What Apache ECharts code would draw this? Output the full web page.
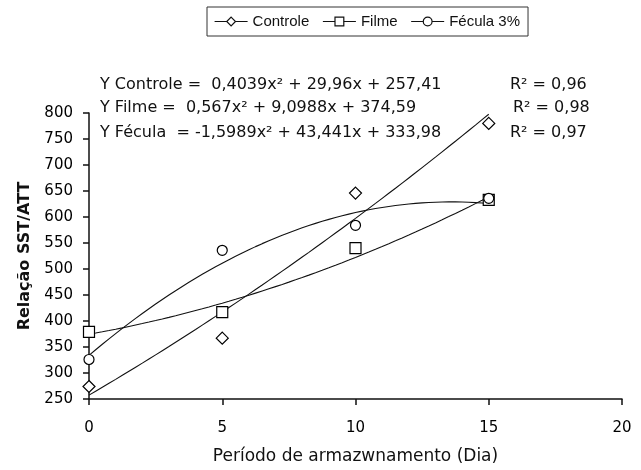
<!DOCTYPE html>
<html>
<head>
<meta charset="utf-8">
<script src="https://cdn.jsdelivr.net/npm/echarts@6/dist/echarts.min.js"></script>
<style>
  html, body { margin: 0; padding: 0; background: #ffffff; }
  #chart { width: 641px; height: 470px; }
</style>
</head>
<body>
<div id="chart"></div>
<script>
// Storage days on the x axis
const days = [0, 5, 10, 15];

// SST/ATT ratio measured for each treatment
const controle = [274, 367, 646, 780];
const filme = [379, 417, 540, 633];
const fecula = [326, 536, 584, 636];

// Quadratic trendline coefficients [a, b, c] for y = a*x^2 + b*x + c
const controleFit = [0.4039, 29.96, 257.41];
const filmeFit = [0.567, 9.0988, 374.59];
const feculaFit = [-1.5989, 43.441, 333.98];

// Series names and equation captions
const seriesNames = ['Controle', 'Filme', 'Fécula 3%'];
const equations = [
  'Y Controle =  0,4039x² + 29,96x + 257,41',
  'Y Filme =  0,567x² + 9,0988x + 374,59',
  'Y Fécula  = -1,5989x² + 43,441x + 333,98'
];
const r2Labels = ['R² = 0,96', 'R² = 0,98', 'R² = 0,97'];

// Axis ticks
const yTicks = [250, 300, 350, 400, 450, 500, 550, 600, 650, 700, 750, 800];
const xTicks = [0, 5, 10, 15, 20];

const FONT = 'DejaVu Sans';

// Evaluate a fitted quadratic along the measured day range
function trend(coef) {
  const pts = [];
  const last = days[days.length - 1];
  for (let i = 0; i <= 60; i++) {
    const x = days[0] + (last - days[0]) * i / 60;
    pts.push([x, coef[0] * x * x + coef[1] * x + coef[2]]);
  }
  return pts;
}

function pointSeries(name, values, symbol, size) {
  return {
    name: name,
    type: 'line',
    data: days.map((d, i) => [d, values[i]]),
    symbol: symbol,
    symbolSize: size,
    showSymbol: true,
    lineStyle: { width: 0, opacity: 0 },
    itemStyle: { color: '#ffffff', borderColor: '#000000', borderWidth: 1.2 },
    z: 5,
    animation: false
  };
}

function trendSeries(name, coef) {
  return {
    name: name,
    type: 'line',
    data: trend(coef),
    showSymbol: false,
    symbol: 'none',
    smooth: false,
    lineStyle: { color: '#111111', width: 1.1 },
    z: 3,
    animation: false
  };
}

const chart = echarts.init(document.getElementById('chart'), null, { renderer: 'canvas' });

const eqTop = [77, 100, 125];
const graphics = [];
equations.forEach((t, i) => {
  graphics.push({
    type: 'text', left: 100, top: eqTop[i],
    style: { text: t, font: '16px "' + FONT + '"', fill: '#111111' }
  });
  graphics.push({
    type: 'text', left: [510, 513, 510][i], top: eqTop[i],
    style: { text: r2Labels[i], font: '16px "' + FONT + '"', fill: '#111111' }
  });
});

chart.setOption({
  backgroundColor: '#ffffff',
  animation: false,
  textStyle: { fontFamily: FONT },
  grid: { left: 89, right: 19, top: 113, bottom: 69, containLabel: false },
  legend: {
    data: seriesNames,
    left: 207,
    top: 7,
    orient: 'horizontal',
    itemWidth: 33,
    itemHeight: 11,
    itemGap: 13,
    padding: [7, 8, 7, 7],
    borderColor: '#333333',
    borderWidth: 1,
    textStyle: { fontFamily: 'Liberation Sans', fontSize: 15, color: '#111111' },
    lineStyle: { color: '#111111', width: 1.2, opacity: 1, type: 'solid' },
    itemStyle: { color: '#ffffff', borderColor: '#111111', borderWidth: 1.2 }
  },
  xAxis: {
    type: 'value',
    min: 0,
    max: 20,
    interval: 5,
    name: 'Período de armazwnamento (Dia)',
    nameLocation: 'middle',
    nameGap: 49,
    nameTextStyle: { fontFamily: FONT, fontSize: 17, color: '#111111' },
    axisLine: { show: true, lineStyle: { color: '#111111', width: 1.5 } },
    axisTick: { show: true, inside: false, length: 6, lineStyle: { color: '#111111', width: 1.5 } },
    axisLabel: { fontFamily: FONT, fontSize: 15, color: '#000000', margin: 22,
      formatter: v => (xTicks.indexOf(v) >= 0 ? String(v) : '') },
    splitLine: { show: false }
  },
  yAxis: {
    type: 'value',
    min: 250,
    max: 800,
    interval: 50,
    name: 'Relação SST/ATT',
    nameLocation: 'middle',
    nameGap: 56,
    nameTextStyle: { fontFamily: FONT, fontSize: 16, fontWeight: 'bold', color: '#111111' },
    axisLine: { show: true, lineStyle: { color: '#111111', width: 1.5 } },
    axisTick: { show: true, inside: false, length: 6, lineStyle: { color: '#111111', width: 1.5 } },
    axisLabel: { fontFamily: FONT, fontSize: 15, color: '#000000', margin: 16,
      formatter: v => (yTicks.indexOf(v) >= 0 ? String(v) : '') },
    splitLine: { show: false }
  },
  graphic: graphics,
  series: [
    trendSeries('Controle (tendência)', controleFit),
    trendSeries('Filme (tendência)', filmeFit),
    trendSeries('Fécula 3% (tendência)', feculaFit),
    pointSeries('Controle', controle, 'diamond', 12),
    pointSeries('Filme', filme, 'rect', 11),
    pointSeries('Fécula 3%', fecula, 'circle', 10)
  ]
});
</script>
</body>
</html>
